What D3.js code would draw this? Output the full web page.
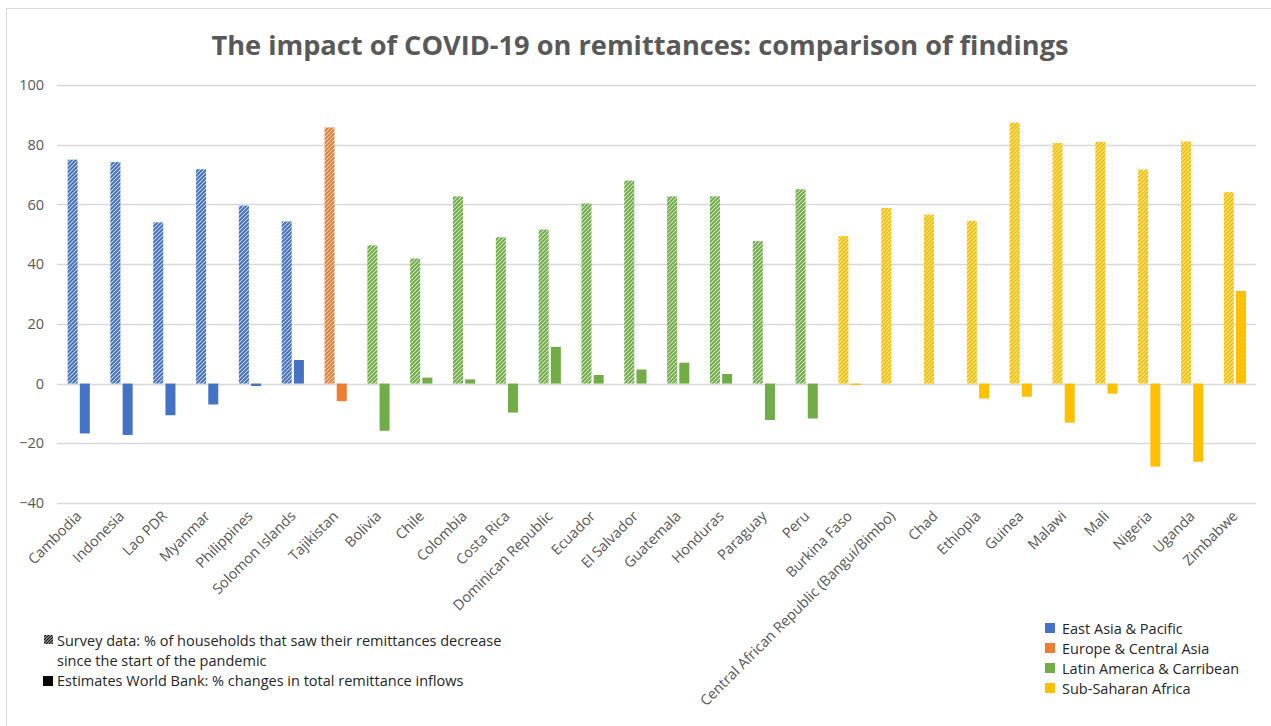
<!DOCTYPE html>
<html>
<head>
<meta charset="utf-8">
<script src="https://cdn.jsdelivr.net/npm/d3@7"></script>
<style>
  html, body { margin: 0; padding: 0; background: #fff; }
  svg { display: block; font-family: "Open Sans", "Noto Sans", sans-serif; }
</style>
</head>
<body>
<svg id="chart" width="1271" height="726"></svg>
<script>
// Countries in display order
const countries = [
  "Cambodia", "Indonesia", "Lao PDR", "Myanmar", "Philippines", "Solomon Islands",
  "Tajikistan",
  "Bolivia", "Chile", "Colombia", "Costa Rica", "Dominican Republic", "Ecuador",
  "El Salvador", "Guatemala", "Honduras", "Paraguay", "Peru",
  "Burkina Faso", "Central African Republic (Bangui/Bimbo)", "Chad", "Ethiopia",
  "Guinea", "Malawi", "Mali", "Nigeria", "Uganda", "Zimbabwe"
];

// Region of each country (index into regionNames)
const countryRegion = [
  0, 0, 0, 0, 0, 0,
  1,
  2, 2, 2, 2, 2, 2, 2, 2, 2, 2, 2,
  3, 3, 3, 3, 3, 3, 3, 3, 3, 3
];

const regionNames = [
  "East Asia & Pacific", "Europe & Central Asia",
  "Latin America & Carribean", "Sub-Saharan Africa"
];
const regionColors = ["#4472C4", "#ED7D31", "#70AD47", "#FFC000"];

// Survey data: % of households that saw their remittances decrease
const surveyValues = [
  75.0, 74.2, 54.0, 71.8, 59.6, 54.3,
  85.8,
  46.3, 41.9, 62.7, 49.0, 51.6, 60.3, 68.0, 62.7, 62.7, 47.7, 65.1,
  49.4, 58.8, 56.6, 54.5, 87.4, 80.6, 80.9, 71.7, 81.1, 64.1
];

// World Bank estimates: % change in total remittance inflows (null = no estimate)
const worldBankValues = [
  -16.7, -17.2, -10.6, -7.0, -0.8, 7.9,
  -5.9,
  -15.8, 2.0, 1.4, -9.7, 12.3, 2.9, 4.7, 7.0, 3.2, -12.2, -11.7,
  -0.5, null, null, -5.0, -4.4, -13.1, -3.4, -27.8, -26.2, 31.0
];

const yTicks = [-40, -20, 0, 20, 40, 60, 80, 100];

const svg = d3.select("#chart");
const textGray = "#595959";

// chart area frame
svg.append("rect")
  .attr("x", 6.5).attr("y", 8.5)
  .attr("width", 1290).attr("height", 740)
  .attr("fill", "none").attr("stroke", "#d9d9d9");

// Hatch patterns, one per region colour
const defs = svg.append("defs");
regionColors.forEach((c, i) => {
  const p = defs.append("pattern")
    .attr("id", "hatch" + i)
    .attr("patternUnits", "userSpaceOnUse")
    .attr("width", 4).attr("height", 4);
  p.append("rect").attr("width", 4).attr("height", 4).attr("fill", "#fff");
  p.append("path")
    .attr("d", "M-1,1 l2,-2 M0,4 l4,-4 M3,5 l2,-2")
    .attr("stroke", c).attr("stroke-width", 2.2);
});
const blackHatch = defs.append("pattern")
  .attr("id", "hatchBlack")
  .attr("patternUnits", "userSpaceOnUse")
  .attr("width", 3).attr("height", 3);
blackHatch.append("rect").attr("width", 3).attr("height", 3).attr("fill", "#fff");
blackHatch.append("path")
  .attr("d", "M-1,1 l2,-2 M0,3 l3,-3 M2,4 l2,-2")
  .attr("stroke", "#111").attr("stroke-width", 1.5);

// Scales
const x = d3.scaleBand()
  .domain(countries)
  .range([57, 1256])
  .padding(0);

const y = d3.scaleLinear()
  .domain([-40, 100])
  .range([503, 85]);

// Title
svg.append("text")
  .attr("x", 640).attr("y", 55)
  .attr("text-anchor", "middle")
  .attr("font-size", 27.2)
  .attr("font-weight", "bold")
  .attr("fill", textGray)
  .text("The impact of COVID-19 on remittances: comparison of findings");

// Gridlines
svg.append("g")
  .selectAll("line")
  .data(yTicks)
  .join("line")
  .attr("x1", 57).attr("x2", 1256)
  .attr("y1", d => Math.round(y(d)) + 0.5)
  .attr("y2", d => Math.round(y(d)) + 0.5)
  .attr("stroke", "#d9d9d9")
  .attr("stroke-width", 1.3);

// Y axis labels
const yAxis = d3.axisLeft(y).tickValues(yTicks).tickSize(0).tickPadding(0);
const yg = svg.append("g").attr("transform", "translate(44,0)").call(yAxis);
yg.select(".domain").remove();
yg.selectAll("text")
  .attr("font-family", "'Open Sans', sans-serif")
  .attr("font-size", 14.5)
  .attr("fill", textGray);

const barW = 10;

// Survey bars (hatched)
svg.append("g")
  .selectAll("rect")
  .data(countries)
  .join("rect")
  .attr("x", (d) => x(d) + x.bandwidth() / 2 - barW - 0.8)
  .attr("width", barW)
  .attr("y", (d, i) => y(Math.max(0, surveyValues[i])))
  .attr("height", (d, i) => Math.abs(y(surveyValues[i]) - y(0)))
  .attr("fill", (d, i) => `url(#hatch${countryRegion[i]})`);

// World Bank bars (solid)
svg.append("g")
  .selectAll("rect")
  .data(countries.filter((d, i) => worldBankValues[i] !== null))
  .join("rect")
  .attr("x", (d) => x(d) + x.bandwidth() / 2 + 1.4)
  .attr("width", barW)
  .attr("y", d => {
    const v = worldBankValues[countries.indexOf(d)];
    return y(Math.max(0, v));
  })
  .attr("height", d => {
    const v = worldBankValues[countries.indexOf(d)];
    return Math.abs(y(v) - y(0));
  })
  .attr("fill", d => regionColors[countryRegion[countries.indexOf(d)]]);

// X axis labels, rotated
const xAxis = d3.axisBottom(x).tickSize(0).tickPadding(0);
const xg = svg.append("g").attr("transform", "translate(0,510)").call(xAxis);
xg.select(".domain").remove();
xg.selectAll(".tick text")
  .attr("font-family", "'Open Sans', sans-serif")
  .attr("font-size", 14.4)
  .attr("fill", textGray)
  .attr("text-anchor", "end")
  .attr("dy", 0)
  .attr("transform", "translate(4,7) rotate(-45)");

// Pattern legend (bottom left)
const pl = svg.append("g").attr("font-size", 14.5).attr("fill", "#262626");
pl.append("rect").attr("x", 44).attr("y", 635).attr("width", 9).attr("height", 9)
  .attr("fill", "url(#hatchBlack)");
pl.append("text").attr("x", 57).attr("y", 646)
  .text("Survey data: % of households that saw their remittances decrease");
pl.append("text").attr("x", 57).attr("y", 666)
  .text("since the start of the pandemic");
pl.append("rect").attr("x", 43).attr("y", 676).attr("width", 10).attr("height", 10)
  .attr("fill", "#000");
pl.append("text").attr("x", 57).attr("y", 686)
  .text("Estimates World Bank: % changes in total remittance inflows");

// Region legend (bottom right)
const rl = svg.append("g").attr("font-size", 14.5).attr("fill", "#262626")
  .selectAll("g")
  .data(regionNames)
  .join("g")
  .attr("transform", (d, i) => `translate(1045,${623 + i * 20})`);
rl.append("rect").attr("width", 10).attr("height", 10)
  .attr("fill", (d, i) => regionColors[i]);
rl.append("text").attr("x", 17).attr("y", 10.5).text(d => d);
</script>
</body>
</html>
